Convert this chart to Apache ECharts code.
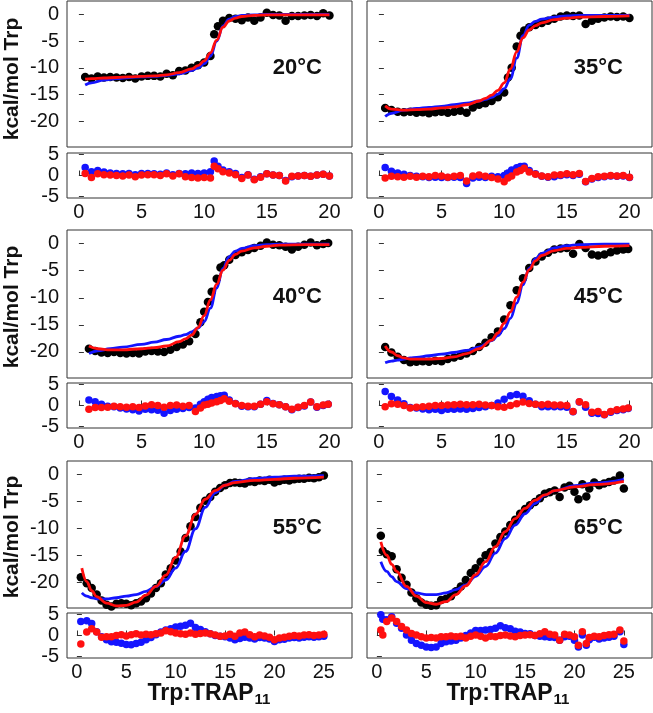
<!DOCTYPE html>
<html><head><meta charset="utf-8">
<script src="https://cdn.jsdelivr.net/npm/echarts@6/dist/echarts.min.js"></script>
<style>html,body{margin:0;padding:0;background:#fff}#c{width:653px;height:713px}</style>
</head><body><div id="c"></div><script>
// ---------- data ----------
const labels = ['20°C','35°C','40°C','45°C','55°C','65°C'];
const yTitle = 'kcal/mol Trp';
const xTitleMain = 'Trp:TRAP';
const xTitleSub = '11';
const mainTicks = [-20,-15,-10,-5,0];
const resTicks = [-5,0,5];
const xTicks20 = [0,5,10,15,20];
const xTicks25 = [0,5,10,15,20,25];

// 20°C
const x20 = [0.5,1,1.5,2,2.5,3,3.5,4,4.5,5,5.5,6,6.5,7,7.5,8,8.5,9,9.5,10,10.5,10.8,11.1,11.5,12,12.5,13,13.5,14,14.5,15,15.5,16,16.5,17,17.5,18,18.5,19,19.5,20];
const y20 = [-11.7,-12.0,-11.6,-11.8,-11.7,-11.8,-11.9,-11.7,-12.0,-11.6,-11.5,-11.5,-11.6,-11.1,-11.4,-10.6,-10.5,-10.0,-9.5,-9.0,-7.8,-3.7,-2.2,-1.2,-0.7,-0.8,-1.1,-0.6,-1.2,-0.6,0.3,-0.1,-0.2,-1.2,-0.3,-0.3,-0.2,-0.1,-0.3,0.2,-0.2];
const rb20 = [1.9,0.9,1.2,0.8,0.6,0.5,0.4,0.5,0.2,0.5,0.5,0.4,0.3,0.6,0.2,0.5,0.4,0.6,0.5,0.6,0.9,3.4,2.2,1.3,0.9,0.5,-0.5,0.2,-0.9,-0.3,0.4,0.1,0,-1.2,-0.3,-0.1,0,-0.2,0.1,0.3,-0.1];
const rr20 = [0.5,-0.5,0.4,0.2,0.1,0,-0.1,0.1,-0.3,0.1,0.2,0.2,0,0.4,-0.1,0.4,-0.3,-0.5,-0.6,-0.5,-0.6,2.2,1.6,0.9,0.6,0.2,-0.7,0.1,-1.0,-0.4,0.4,0.1,0,-1.3,-0.2,-0.1,0,-0.2,0.1,0.3,-0.1];
const fx20 = [0.5,1,2,3,4,5,6,7,8,9,9.5,10,10.5,11,11.5,12,12.5,13,14,15,16,18,20];
const fr20 = [-12.1,-12.0,-11.9,-11.8,-11.7,-11.6,-11.5,-11.3,-10.9,-10.2,-9.6,-8.7,-7.2,-4.8,-2.4,-1.2,-0.7,-0.4,-0.2,-0.1,-0.1,-0.1,-0.1];
const fb20 = [-13.2,-12.8,-12.3,-12.0,-11.8,-11.7,-11.6,-11.4,-11.1,-10.5,-10.0,-9.2,-7.8,-5.0,-2.2,-0.9,-0.4,-0.2,-0.1,0,0,0,0];

// 35°C
const x35 = [0.5,1,1.5,2,2.5,3,3.5,4,4.5,5,5.5,6,6.5,7,7.5,8,8.5,9,9.5,10,10.3,10.6,11,11.3,11.6,12,12.5,13,13.5,14,14.5,15,15.5,16,16.5,17,17.5,18,18.5,19,19.5,20];
const y35 = [-17.5,-17.9,-18.2,-18.3,-18.2,-18.4,-18.3,-18.5,-18.3,-18.2,-18.4,-18.2,-18.0,-18.4,-17.4,-16.9,-16.6,-16.2,-15.5,-14.6,-11.8,-10.0,-6.0,-4.0,-3.0,-2.4,-2.0,-1.6,-1.2,-0.8,-0.4,-0.2,-0.3,-0.2,-1.8,-1.2,-0.8,-0.6,-0.4,-0.5,-0.4,-0.7];
const rb35 = [1.9,1.0,0.6,0.3,0,-0.2,-0.3,-0.5,-0.4,-0.5,-0.5,-0.4,-0.5,-1.9,-0.6,-0.4,-0.5,-0.2,-0.3,0,0.6,1.3,1.8,2.1,2.2,1.2,0.4,-0.2,-0.4,-0.3,0,0.2,0,0.3,-1.5,-0.8,-0.5,-0.3,-0.1,-0.2,-0.1,-0.5];
const rr35 = [-0.6,-0.2,-0.3,-0.4,-0.2,-0.4,-0.2,-0.3,0,-0.1,-0.4,-0.2,0,-1.3,-0.1,0.1,-0.2,-0.5,-0.8,-1.5,-0.6,-0.1,0.8,1.2,1.7,0.8,0.3,-0.1,-0.3,0.1,0.2,0.4,0.2,0.5,-1.4,-0.7,-0.3,-0.2,0,-0.1,0,-0.4];
const fx35 = [0.5,1,2,3,4,5,6,7,8,8.5,9,9.5,10,10.5,11,11.5,12,12.5,13,14,15,16,18,20];
const fr35 = [-17.1,-17.7,-17.9,-17.8,-17.7,-17.5,-17.3,-16.9,-16.2,-15.7,-15.1,-14.2,-12.8,-10.2,-7.0,-4.4,-2.9,-2.1,-1.6,-1.0,-0.7,-0.5,-0.4,-0.3];
const fb35 = [-19.1,-18.5,-17.9,-17.6,-17.4,-17.2,-16.9,-16.6,-16.2,-15.9,-15.5,-14.9,-13.9,-12.0,-8.2,-4.0,-2.0,-1.3,-0.9,-0.5,-0.3,-0.2,-0.2,-0.2];

// 40°C
const x40 = [0.8,1.3,1.8,2.3,2.8,3.3,3.8,4.3,4.8,5.3,5.8,6.3,6.8,7.3,7.8,8.3,8.8,9.3,9.7,10,10.3,10.6,11,11.3,11.6,12,12.5,13,13.5,14,14.5,15,15.5,16,16.5,17,17.5,18,18.5,19,19.5,19.9];
const y40 = [-19.4,-19.8,-20.1,-20.2,-20.0,-20.2,-20.3,-20.2,-20.3,-19.9,-19.8,-19.9,-20.0,-19.6,-19.1,-18.6,-18.0,-16.7,-14.5,-12.6,-10.8,-8.9,-6.5,-4.4,-4.0,-3.0,-2.1,-1.6,-1.2,-0.8,-0.4,0.2,-0.2,-0.3,-0.6,-1.1,-0.6,-0.2,0.2,-0.3,-0.1,0.1];
const rb40 = [1.3,0.9,0.3,-0.2,-0.3,-0.6,-0.8,-1.0,-1.3,-0.9,-1.0,-1.1,-1.8,-1.2,-0.9,-0.7,-0.5,-0.6,0.3,0.9,1.5,1.9,2.1,2.3,2.4,1.3,0.5,-0.2,-0.3,-0.3,0.3,1.2,0.5,0.2,-0.3,-1.0,-0.5,-0.1,0.8,-0.4,0,0.3];
const rr40 = [-0.9,-0.5,-0.5,-0.4,-0.2,-0.3,-0.4,-0.3,-0.5,-0.1,0.2,0,-0.4,0,0.1,-0.2,0,-1.4,-0.6,0.1,0.3,0.6,0.9,1.2,1.6,1.0,0.4,0,-0.2,-0.2,0.3,0.9,0.4,0.2,-0.3,-0.9,-0.4,0,0.8,-0.3,0.1,0.3];
const fx40 = [0.8,1.5,2.5,3.5,5,6,7,8,8.5,9,9.5,10,10.5,11,11.5,12,12.5,13,14,15,16,18,20];
const fr40 = [-18.9,-19.4,-19.6,-19.6,-19.4,-19.2,-18.9,-18.1,-17.6,-16.9,-15.5,-13.3,-10.4,-7.5,-4.9,-3.1,-2.0,-1.4,-0.8,-0.5,-0.3,-0.2,-0.2];
const fb40 = [-20.3,-19.8,-19.4,-19.1,-18.6,-18.2,-17.7,-17.1,-16.8,-16.3,-15.6,-14.4,-11.9,-8.2,-4.6,-2.4,-1.4,-0.9,-0.4,-0.2,-0.1,-0.1,-0.1];

// 45°C
const x45 = [0.5,1,1.5,2,2.5,3,3.5,4,4.5,5,5.5,6,6.5,7,7.5,8,8.5,9,9.5,10,10.5,11,11.5,12,12.5,13,13.5,14,14.5,15,15.5,16,16.5,17,17.5,18,18.5,19,19.5,19.9];
const y45 = [-19.1,-20.1,-20.9,-21.5,-21.9,-21.8,-21.7,-21.8,-21.6,-21.7,-21.3,-21.0,-20.7,-20.3,-19.8,-19.1,-18.3,-17.3,-16.2,-14.0,-11.4,-8.6,-6.4,-4.5,-3.3,-2.4,-1.7,-1.1,-0.9,-0.8,-1.9,-0.1,-0.8,-2.0,-2.2,-2.0,-1.6,-1.3,-1.1,-1.0];
const rb45 = [3.3,2.1,1.3,0.4,-0.5,-0.6,-0.8,-1.0,-0.9,-1.2,-0.9,-0.9,-0.8,-0.9,-0.7,-0.5,-0.3,0,0.6,1.5,2.3,2.6,2.2,1.1,0.3,-0.3,-0.3,-0.3,-0.3,-0.4,-1.5,0.8,-0.4,-1.8,-1.9,-2.2,-1.6,-1.2,-1.0,-0.7];
const rr45 = [-0.3,0.4,0.3,0,-0.6,-0.4,-0.3,-0.2,0,0,0.1,0.2,0.3,0.2,0.2,0.3,0.1,0,-0.3,-0.4,0,0.4,0.8,0.5,0.3,0.2,0.3,0.1,0.1,0,-1.4,0.9,0.2,-1.6,-1.4,-2.1,-1.4,-1.0,-0.8,-0.6];
const fx45 = [0.5,1,1.5,2,2.5,3,4,5,6,7,8,9,9.5,10,10.5,11,11.5,12,12.5,13,14,15,16,18,20];
const fr45 = [-18.9,-20.0,-20.7,-21.1,-21.3,-21.3,-21.3,-21.2,-20.9,-20.3,-19.4,-17.8,-16.5,-14.7,-12.6,-9.9,-7.1,-4.8,-3.2,-2.2,-1.3,-0.9,-0.7,-0.5,-0.4];
const fb45 = [-22.0,-21.7,-21.5,-21.3,-21.1,-21.0,-20.7,-20.4,-20.1,-19.7,-19.1,-17.9,-17.0,-15.7,-13.8,-11.0,-7.6,-4.6,-2.8,-1.8,-0.8,-0.4,-0.2,-0.1,-0.1];

// 55°C
const x55 = [0.4,1,1.5,2,2.5,3,3.5,4,4.5,5,5.5,6,6.5,7,7.5,8,8.5,9,9.5,10,10.5,11,11.5,12,12.5,13,13.5,14,14.5,15,15.5,16,16.5,17,17.5,18,18.5,19,19.5,20,20.5,21,21.5,22,22.5,23,23.5,24,24.5,25];
const y55 = [-19.1,-20.2,-21.1,-22.3,-23.4,-24.2,-24.5,-24.0,-23.9,-24.0,-24.3,-23.9,-23.6,-23.0,-22.1,-21.1,-20.2,-18.6,-17.4,-16.0,-14.3,-11.8,-9.6,-7.9,-6.2,-4.9,-4.2,-3.2,-2.5,-2.0,-1.6,-1.5,-1.6,-1.7,-1.3,-1.4,-1.1,-1.2,-1.0,-1.5,-1.2,-1.0,-1.1,-0.9,-0.8,-0.8,-0.6,-0.7,-0.5,-0.2];
const rb55 = [3.3,3.5,2.8,0.9,-0.3,-1.0,-1.5,-1.6,-1.8,-2.1,-2.2,-1.9,-1.6,-1.0,-0.5,0.2,0.8,1.3,1.6,2.0,2.2,2.4,2.9,1.9,1.4,0.9,0.4,0,-0.2,-0.3,-0.6,-1.0,-0.7,-0.4,-0.6,-0.8,-0.5,-0.6,-0.8,-1.4,-1.0,-0.9,-0.6,-0.5,-0.6,-0.4,-0.3,-0.4,-0.3,-0.2];
const rr55 = [-2.0,0.8,1.6,0.8,-0.4,-0.3,-0.3,0,0.2,-0.1,0.2,0.4,0.1,0.3,0.2,0.4,0.6,1.1,0.9,0.6,0.4,0.3,0.6,0.3,0.5,0.6,0.4,0.1,-0.2,-0.1,0.3,-0.2,0.6,0.8,0.2,-0.3,0.1,-0.1,-0.4,-1.0,-0.6,-0.4,-0.2,0,-0.1,0.1,0.2,0,0.1,0.3];
const fx55 = [0.5,1,1.5,2,3,4,5,6,7,8,9,10,11,12,13,14,15,16,18,20,22,25];
const fr55 = [-17.4,-19.9,-21.6,-22.7,-23.9,-24.4,-24.3,-23.7,-22.4,-20.8,-18.7,-15.4,-11.4,-7.4,-4.6,-3.0,-2.0,-1.5,-1.1,-0.9,-0.7,-0.5];
const fb55 = [-22.0,-22.6,-22.9,-23.1,-23.1,-22.9,-22.6,-22.3,-21.7,-20.8,-19.6,-17.4,-14.3,-10.1,-6.1,-3.4,-2.0,-1.3,-0.8,-0.5,-0.3,-0.2];

// 65°C
const x65 = [0.4,0.6,1,1.5,2,2.5,3,3.5,4,4.5,5,5.5,6,6.5,7,7.5,8,8.5,9,9.5,10,10.5,11,11.5,12,12.5,13,13.5,14,14.5,15,15.5,16,16.5,17,17.5,18,18.5,19,19.5,20,20.4,20.8,21.2,21.5,22,22.5,23,23.5,24,24.6,25];
const y65 = [-11.4,-14.2,-14.8,-15.2,-17.6,-19.2,-20.5,-21.9,-23.0,-23.8,-24.2,-24.4,-24.3,-23.3,-23.1,-22.6,-21.7,-20.8,-19.6,-18.3,-17.4,-16.2,-15.0,-14.4,-12.8,-11.6,-10.6,-9.4,-8.4,-7.3,-6.4,-5.7,-5.1,-4.4,-3.6,-3.3,-3.0,-4.2,-2.4,-2.1,-3.2,-4.6,-1.8,-4.1,-2.6,-1.5,-2.0,-1.7,-1.4,-1.1,-0.2,-2.6];
const rb65 = [4.9,3.8,3.7,4.4,2.9,1.7,0.1,-1.1,-1.9,-2.3,-2.7,-2.8,-2.7,-1.9,-1.5,-1.3,-1.1,-0.6,0,0.6,1.2,1.2,1.3,1.4,1.7,2.3,1.8,1.6,1.0,0.8,0.5,0.4,0,-0.2,-0.3,-0.4,-0.5,-1.1,-0.3,-0.2,-1.1,-2.7,0.1,-2.3,-1.0,-0.4,-0.8,-0.6,-0.4,-0.2,0.9,-2.1];
const rr65 = [1.3,0.1,3.3,4.1,3.3,2.1,1.3,0.5,0.1,-0.3,-0.6,-0.5,-0.6,-0.3,-0.3,-0.1,-0.3,-0.2,-0.6,-0.2,0.1,-0.2,-0.6,-0.2,-0.3,0,0.1,-0.1,-0.3,0,0.1,0.2,0,0.4,0.9,0.3,0.1,-1.1,0.3,0.1,-0.3,-2.3,0.9,-1.9,-0.5,-0.2,-0.3,0,0.2,0.3,1.3,-1.3];
const fx65 = [0.4,1,1.5,2,3,4,5,6,7,8,9,10,11,12,13,14,15,16,17,18,20,22,25];
const fr65 = [-12.5,-15.0,-16.7,-18.0,-20.8,-22.6,-23.8,-24.1,-23.6,-22.3,-20.7,-18.6,-16.2,-13.4,-10.6,-8.2,-6.3,-4.8,-3.8,-3.0,-2.3,-1.9,-1.3];
const fb65 = [-16.2,-18.0,-19.0,-19.9,-21.2,-22.0,-22.3,-22.3,-22.0,-21.4,-20.5,-18.9,-17.1,-14.6,-11.9,-9.4,-7.3,-5.4,-3.9,-3.0,-2.1,-1.6,-0.9];

// ---------- layout ----------
const panels = [
  {label:labels[0], x:x20, y:y20, rb:rb20, rr:rr20, fx:fx20, fr:fr20, fb:fb20, xt:xTicks20, xr:[-0.95,21.8], row:0, col:0},
  {label:labels[1], x:x35, y:y35, rb:rb35, rr:rr35, fx:fx35, fr:fr35, fb:fb35, xt:xTicks20, xr:[-0.95,21.8], row:0, col:1},
  {label:labels[2], x:x40, y:y40, rb:rb40, rr:rr40, fx:fx40, fr:fr40, fb:fb40, xt:xTicks20, xr:[-0.95,21.8], row:1, col:0},
  {label:labels[3], x:x45, y:y45, rb:rb45, rr:rr45, fx:fx45, fr:fr45, fb:fb45, xt:xTicks20, xr:[-0.95,21.8], row:1, col:1},
  {label:labels[4], x:x55, y:y55, rb:rb55, rr:rr55, fx:fx55, fr:fr55, fb:fb55, xt:xTicks25, xr:[-1,27.85], row:2, col:0},
  {label:labels[5], x:x65, y:y65, rb:rb65, rr:rr65, fx:fx65, fr:fr65, fb:fb65, xt:xTicks25, xr:[-1,27.85], row:2, col:1}
];
const COLS = [67, 367], W = 285;
const MAIN = [[1,146],[230,148],[461,147]];
const RES = [[153,45],[383,45],[613,45]];
const FONT = '"Liberation Sans", Arial, Helvetica, sans-serif';
const AX = '#333';

const zip = (a, b) => a.map((v, i) => [v, b[i]]);
const grid = [], xAxis = [], yAxis = [], series = [], graphic = [];

panels.forEach((p, i) => {
  const gm = 2*i, gr = 2*i+1;
  grid.push({left:COLS[p.col], top:MAIN[p.row][0], width:W, height:MAIN[p.row][1], show:true, borderColor:AX, borderWidth:1, backgroundColor:'transparent'});
  grid.push({left:COLS[p.col], top:RES[p.row][0], width:W, height:RES[p.row][1], show:true, borderColor:AX, borderWidth:1, backgroundColor:'transparent'});
  xAxis.push({gridIndex:gm, type:'value', min:p.xr[0], max:p.xr[1], axisLine:{show:false}, axisTick:{show:false}, axisLabel:{show:false}, splitLine:{show:false}});
  xAxis.push({gridIndex:gr, type:'value', min:p.xr[0], max:p.xr[1], axisLine:{show:false},
    axisTick:{show:true, inside:true, length:5, customValues:p.xt, lineStyle:{color:AX, width:1}},
    axisLabel:{show:true, customValues:p.xt, fontSize:20, margin:4, color:'#111', fontFamily:FONT},
    splitLine:{show:false}});
  yAxis.push({gridIndex:gm, type:'value', min:-24.8, max:2.5, axisLine:{show:false},
    axisTick:{show:true, inside:true, length:5, customValues:mainTicks, lineStyle:{color:AX, width:1}},
    axisLabel:{show:p.col===0, customValues:mainTicks, fontSize:20, margin:8, color:'#111', fontFamily:FONT},
    splitLine:{show:false}});
  yAxis.push({gridIndex:gr, type:'value', min:-5.3, max:5.3, axisLine:{show:false},
    axisTick:{show:true, inside:true, length:5, customValues:resTicks, lineStyle:{color:AX, width:1}},
    axisLabel:{show:p.col===0, customValues:resTicks, fontSize:20, margin:8, color:'#111', fontFamily:FONT},
    splitLine:{show:false}});
  series.push({type:'scatter', xAxisIndex:gm, yAxisIndex:gm, data:zip(p.x,p.y), symbolSize:8.5, itemStyle:{color:'#000', opacity:1}, z:2, silent:true});
  series.push({type:'line', xAxisIndex:gm, yAxisIndex:gm, data:zip(p.fx,p.fb), smooth:0.4, smoothMonotone:'x', showSymbol:false, lineStyle:{color:'#1414ff', width:2.8}, z:3, silent:true});
  series.push({type:'line', xAxisIndex:gm, yAxisIndex:gm, data:zip(p.fx,p.fr), smooth:0.4, smoothMonotone:'x', showSymbol:false, lineStyle:{color:'#ff0d0d', width:2.8}, z:4, silent:true});
  series.push({type:'scatter', xAxisIndex:gr, yAxisIndex:gr, data:zip(p.x,p.rb), symbolSize:7.5, itemStyle:{color:'#1414ff', opacity:1}, z:2, silent:true});
  series.push({type:'scatter', xAxisIndex:gr, yAxisIndex:gr, data:zip(p.x,p.rr), symbolSize:7.5, itemStyle:{color:'#ff1010', opacity:1}, z:3, silent:true});

  const tCenter = [68, 297, 528][p.row];
  graphic.push({type:'text', x: p.col===0 ? 322 : 623, y: tCenter, z:10,
    style:{text:p.label, fill:'#111', fontSize:22, fontWeight:'bold', fontFamily:FONT, align:'right', verticalAlign:'middle', textAlign:'right', textVerticalAlign:'middle'}});
});

[79, 307, 537].forEach(cy => {
  graphic.push({type:'text', x:12, y:cy, rotation:Math.PI/2, z:10,
    style:{text:yTitle, fill:'#111', fontSize:21, fontWeight:'bold', fontFamily:FONT, align:'center', verticalAlign:'middle', textAlign:'center', textVerticalAlign:'middle'}});
});
[209, 508].forEach(cx => {
  graphic.push({type:'text', x:cx, y:694, z:10,
    style:{text:'{a|' + xTitleMain + '}{b|' + xTitleSub + '}', fill:'#111', fontFamily:FONT, align:'center', verticalAlign:'middle', textAlign:'center', textVerticalAlign:'middle',
      rich:{a:{fontSize:23, fontWeight:'bold', fontFamily:FONT, fill:'#111', color:'#111', lineHeight:26}, b:{fontSize:15, fontWeight:'bold', fontFamily:FONT, fill:'#111', color:'#111', verticalAlign:'bottom', lineHeight:26, padding:[8,0,0,1]}}}});
});

const chart = echarts.init(document.getElementById('c'), null, {renderer:'canvas'});
chart.setOption({animation:false, backgroundColor:'#fff', grid, xAxis, yAxis, series, graphic});
</script></body></html>
